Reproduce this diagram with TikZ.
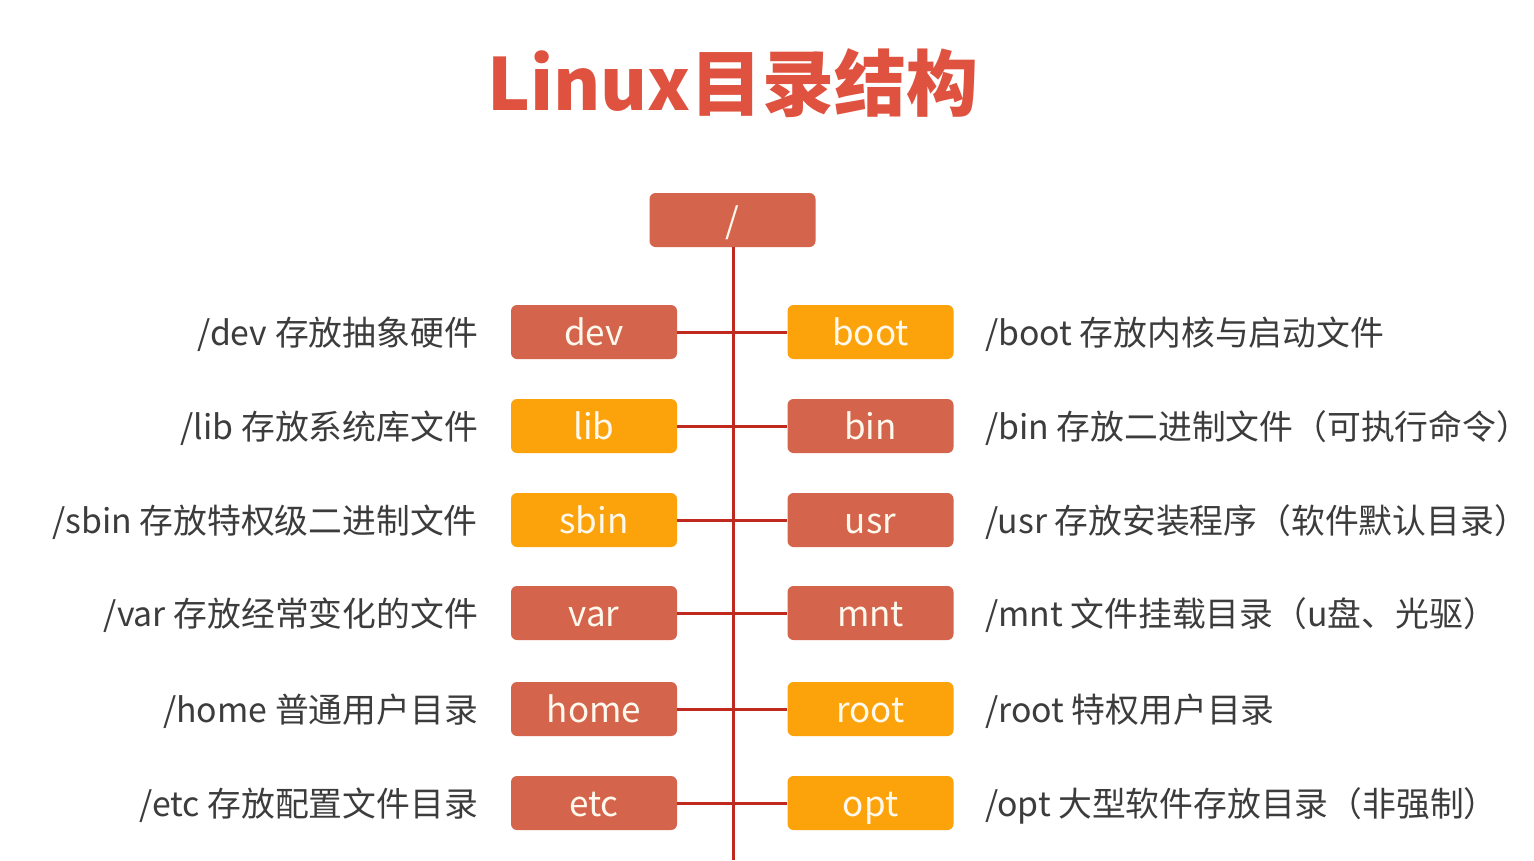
\documentclass[tikz,border=0pt]{standalone}
\usepackage{fontspec}
\setmainfont{Noto Sans CJK SC}
\newfontfamily\cjk{Noto Sans CJK SC}
\definecolor{boxred}{HTML}{D4644C}
\definecolor{boxorange}{HTML}{FCA30C}
\definecolor{linered}{HTML}{C02A1E}
\definecolor{titlered}{HTML}{DF5240}
\definecolor{labelgray}{HTML}{3C3C3C}
\definecolor{boxtext}{HTML}{FFF8EC}
\tikzset{
  dirbox/.style={rounded corners=6pt, minimum width=166pt, minimum height=54pt,
    inner sep=0pt, text height=30pt, text depth=4pt, text=boxtext,
    font=\cjk\fontsize{35}{40}\selectfont},
  redbox/.style={dirbox, fill=boxred},
  orangebox/.style={dirbox, fill=boxorange},
  lbl/.style={text=labelgray, inner sep=0pt, text height=30pt, text depth=4pt,
    font=\cjk\fontsize{33.8}{40}\selectfont},
  leftlbl/.style={lbl, anchor=east},
  rightlbl/.style={lbl, anchor=west},
  conn/.style={draw=linered, line width=3pt}
}
\begin{document}
\begin{tikzpicture}[x=1pt,y=-1pt]
\useasboundingbox (0,0) rectangle (1534,860);
\fill[white] (0,0) rectangle (1534,860);
\node[text=titlered, font=\cjk\bfseries\fontsize{72}{80}\selectfont] (title) at (733,83) {Linux目录结构};
\node[redbox] (root) at (732.5,220) {/};
\coordinate (trunkend) at (733,860);
% rows
\node[redbox]    (dev)  at (594,332) {dev};
\node[orangebox] (boot) at (870.5,332) {boot};
\node[orangebox] (lib)  at (594,426) {lib};
\node[redbox]    (bin)  at (870.5,426) {bin};
\node[orangebox] (sbin) at (594,520) {sbin};
\node[redbox]    (usr)  at (870.5,520) {usr};
\node[redbox]    (var)  at (594,613) {var};
\node[redbox]    (mnt)  at (870.5,613) {mnt};
\node[redbox]    (home) at (594,709) {home};
\node[orangebox] (rootd) at (870.5,709) {root};
\node[redbox]    (etc)  at (594,803) {etc};
\node[orangebox] (opt)  at (870.5,803) {opt};
% connectors
\draw[conn] (root.south -| trunkend) -- (trunkend);
\draw[conn] (dev.east) -- (boot.west);
\draw[conn] (lib.east) -- (bin.west);
\draw[conn] (sbin.east) -- (usr.west);
\draw[conn] (var.east) -- (mnt.west);
\draw[conn] (home.east) -- (rootd.west);
\draw[conn] (etc.east) -- (opt.west);
% labels
\node[leftlbl] (ldev) at (478,332) {/dev 存放抽象硬件};
\node[leftlbl] (llib) at (478,426) {/lib 存放系统库文件};
\node[leftlbl] (lsbin) at (478,520) {/sbin 存放特权级二进制文件};
\node[leftlbl] (lvar) at (478,613) {/var 存放经常变化的文件};
\node[leftlbl] (lhome) at (478,709) {/home 普通用户目录};
\node[leftlbl] (letc) at (478,803) {/etc 存放配置文件目录};
\node[rightlbl] (lboot) at (985,332) {/boot 存放内核与启动文件};
\node[rightlbl] (lbin) at (985,426) {/bin 存放二进制文件（可执行命令）};
\node[rightlbl] (lusr) at (985,520) {/usr 存放安装程序（软件默认目录）};
\node[rightlbl] (lmnt) at (985,613) {/mnt 文件挂载目录（u盘、光驱）};
\node[rightlbl] (lroot) at (985,709) {/root 特权用户目录};
\node[rightlbl] (lopt) at (985,803) {/opt 大型软件存放目录（非强制）};
\end{tikzpicture}
\end{document}
